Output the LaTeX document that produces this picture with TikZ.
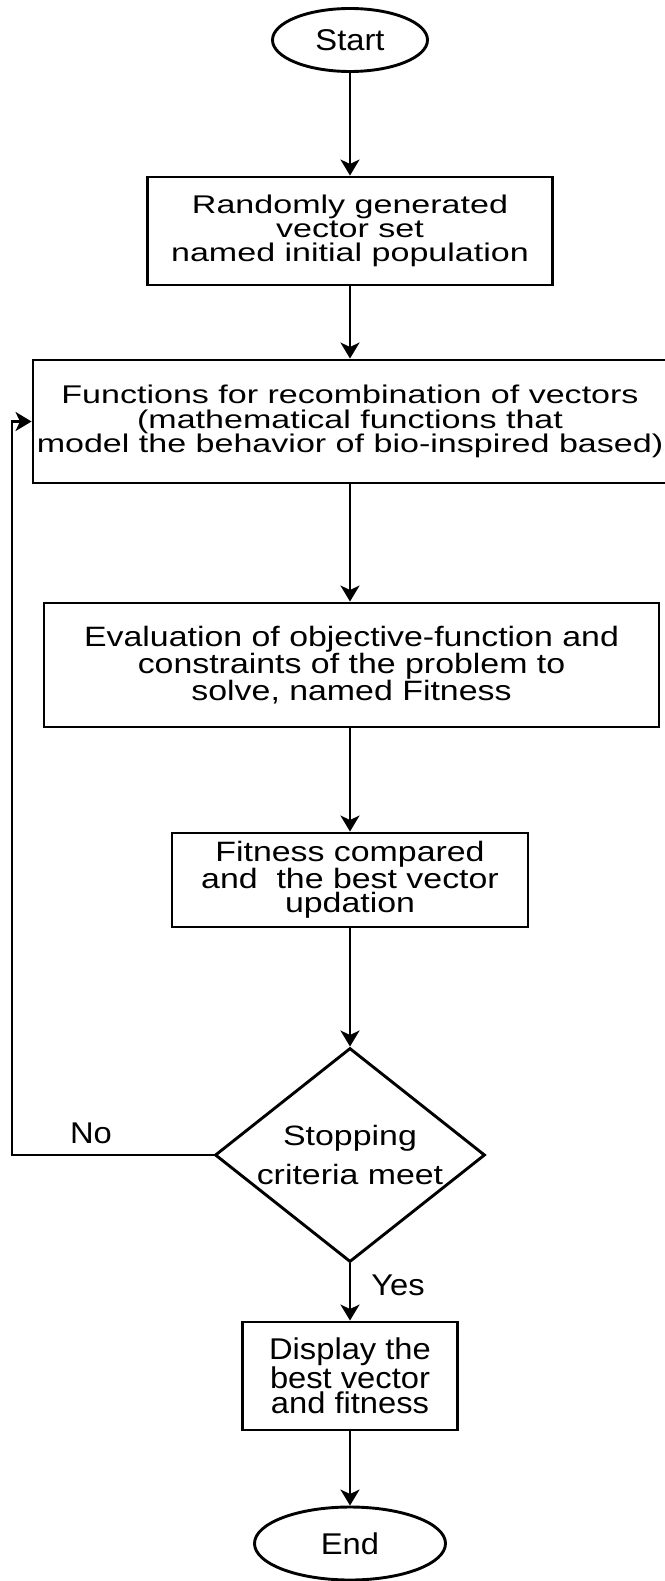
\documentclass[tikz,border=0pt]{standalone}
\usepackage{fontspec}
\setmainfont{Liberation Sans}
\newfontfamily\fA[FakeStretch=1.33]{Liberation Sans}
\newfontfamily\fB[FakeStretch=1.21]{Liberation Sans}
\newfontfamily\fC[FakeStretch=1.09]{Liberation Sans}
\usetikzlibrary{shapes.geometric,arrows.meta}
\begin{document}
\begin{tikzpicture}[x=1pt,y=-1pt,
  every node/.style={inner sep=0pt},
  fa/.style={font=\fA\fontsize{25.6}{24.3}\selectfont},
  fb/.style={font=\fB\fontsize{28}{24.3}\selectfont},
  fc/.style={font=\fC\fontsize{30}{25}\selectfont},
  box/.style={draw, line width=2.9pt, rectangle, align=center},
  term/.style={draw, line width=2.9pt, ellipse},
  dec/.style={draw, line width=2.9pt, diamond, aspect=1.26, align=center, font=\fB\fontsize{28}{39}\selectfont},
  arr/.style={line width=2.9pt, -{Stealth[length=16pt,width=19pt,inset=4.5pt]}}]
\useasboundingbox (0,0) rectangle (664,1581);
\node[term, fc, minimum width=155pt, minimum height=63pt] (start) at (350,40) {Start};
\node[box, fa, minimum width=405pt, minimum height=108pt] (b1) at (350,231) {Randomly generated\\vector set\\named initial population};
\node[box, fa, minimum width=634pt, minimum height=123pt] (b2) at (350,421.5) {Functions for recombination of vectors\\(mathematical functions that\\model the behavior of bio-inspired based)};
\node[box, fb, minimum width=615pt, minimum height=124pt] (b3) at (351.5,665) {Evaluation of objective-function and\\constraints of the problem to\\solve, named Fitness};
\node[box, fb, minimum width=356pt, minimum height=94pt] (b4) at (350,880) {Fitness compared\\and\ \ the best vector\\updation};
\node[dec, minimum width=270pt, minimum height=214pt] (dia) at (350,1155) {Stopping\\criteria meet};
\node[box, fc, minimum width=215pt, minimum height=108pt] (b5) at (350,1376) {Display the\\best vector\\and fitness};
\node[term, fc, minimum width=191pt, minimum height=73pt] (end) at (350,1543.5) {End};
\node[fc, anchor=base] (no) at (91,1143) {No};
\node[fc, anchor=base] (yes) at (398,1295) {Yes};
\coordinate (lp) at (12,1155);
\draw[arr] (start) -- (b1);
\draw[arr] (b1) -- (b2);
\draw[arr] (b2) -- (b2 |- b3.north);
\draw[arr] (b3.south -| b4) -- (b4);
\draw[arr] (b4) -- (dia);
\draw[arr] (dia) -- (b5);
\draw[arr] (b5) -- (end);
\draw[arr] (dia.west) -- (lp) |- (b2.west);
\end{tikzpicture}
\end{document}
